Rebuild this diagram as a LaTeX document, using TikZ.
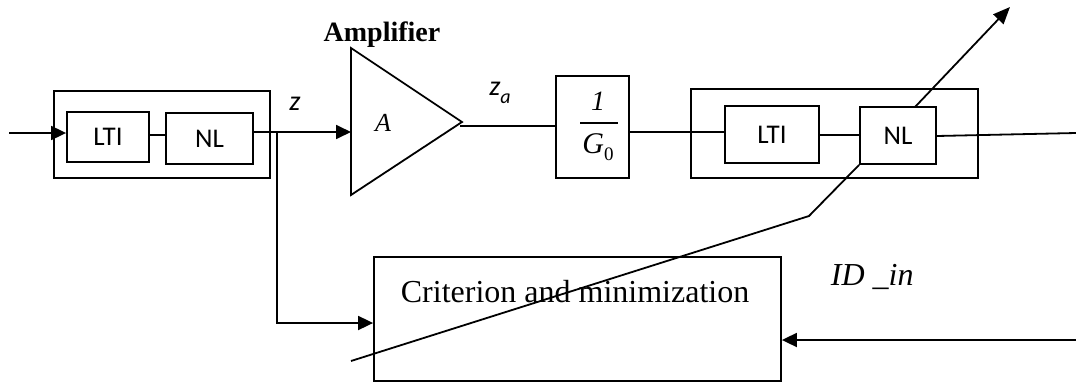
\documentclass[tikz,border=0pt]{standalone}
\usepackage{fontspec}
\setmainfont{Liberation Serif}
\newfontfamily\calibrifont{Carlito}
\usetikzlibrary{arrows.meta}
\begin{document}
\begin{tikzpicture}[x=1pt,y=-1pt,
  every path/.style={line width=1.8pt},
  box/.style={draw, line width=1.8pt, fill=white, inner sep=0pt},
  sbox/.style={box, font=\calibrifont\fontsize{27}{30}\selectfont},
  tip/.style={-{Triangle[length=15pt,width=14pt]}},
  lbl/.style={inner sep=0pt}]
\useasboundingbox (0,0) rectangle (1076,383);
% outer boxes
\node[draw, line width=1.8pt, minimum width=216, minimum height=87, inner sep=0pt] (outerL) at (162,134.5) {};
\node[draw, line width=1.8pt, minimum width=287, minimum height=89, inner sep=0pt] (outerR) at (834.5,133.5) {};
% inner blocks
\node[sbox, minimum width=82, minimum height=50] (lti1) at (108,137) {LTI};
\node[sbox, minimum width=87, minimum height=51] (nl1) at (209.5,138.5) {NL};
\node[sbox, minimum width=94, minimum height=57] (lti2) at (772,134.5) {LTI};
\node[sbox, minimum width=76, minimum height=57] (nl2) at (898,135.5) {NL};
\node[box, minimum width=73, minimum height=102] (g0) at (592.5,127) {};
\node[box, minimum width=407, minimum height=124] (crit) at (577.5,319) {};
\node[lbl, anchor=base west, font=\fontsize{32}{36}\selectfont] (crittext) at (400,302) {Criterion and minimization};
% fraction in g0
\node[lbl, font=\itshape\fontsize{28}{30}\selectfont] (one) at (598,101) {1};
\draw[line width=1.2pt] (580,123) -- (618,123);
\node[lbl, font=\fontsize{30}{32}\selectfont] (gz) at (598,147) {\textit{G}\raisebox{-0.25em}{\fontsize{19}{20}\selectfont 0}};
% amplifier
\coordinate (ampT) at (351,48);
\coordinate (ampB) at (351,195);
\coordinate (ampA) at (462,122);
\draw (ampT) -- (ampB) -- (ampA) -- cycle;
\coordinate (ampIn) at (351,132);
\coordinate (ampOut) at (460,126);
\node[lbl, font=\itshape\fontsize{26}{30}\selectfont] (Alab) at (383,123) {A};
\node[lbl, font=\bfseries\fontsize{28}{30}\selectfont] (amplab) at (382,35) {Amplifier};
% labels
\node[lbl, font=\calibrifont\itshape\fontsize{28}{30}\selectfont] (zlab) at (295,104) {z};
\node[lbl, font=\calibrifont\itshape\fontsize{28}{30}\selectfont] (zalab) at (500,93) {z\raisebox{-0.3em}{\fontsize{20}{22}\selectfont a}};
\node[lbl, anchor=base west, font=\itshape\fontsize{32}{36}\selectfont] (idlab) at (830,285) {ID \_in};
% connectors
\coordinate (in1) at (9,133);
\draw[tip] (in1) -- (in1 -| lti1.west);
\draw (lti1.east |- 0,135) -- (nl1.west |- 0,135);
\coordinate (j) at (277,132);
\draw (nl1.east |- j) -- (j);
\draw[tip] (j) -- (ampIn);
\draw[tip] (j) |- (crit.west |- 0,323);
\draw (ampOut) -- (g0.west |- ampOut);
\draw (g0.east |- 0,132) -- (lti2.west |- 0,132);
\draw (lti2.east |- 0,135) -- (nl2.west |- 0,135);
\coordinate (out) at (1076,133);
\draw (nl2.east |- 0,136) -- (out);
\coordinate (fin) at (1076,340);
\draw[tip] (fin) -- (crit.east |- fin);
% adjustable-parameter arrow through NL
\coordinate (d0) at (351,361);
\coordinate (d1) at (809,216);
\coordinate (dtop) at (915,107);
\coordinate (dtip) at (1010,7);
\draw (d0) -- (d1) -- (nl2.south west);
\draw[-{Triangle[length=17pt,width=14pt]}] (dtop) -- (dtip);
\end{tikzpicture}
\end{document}
